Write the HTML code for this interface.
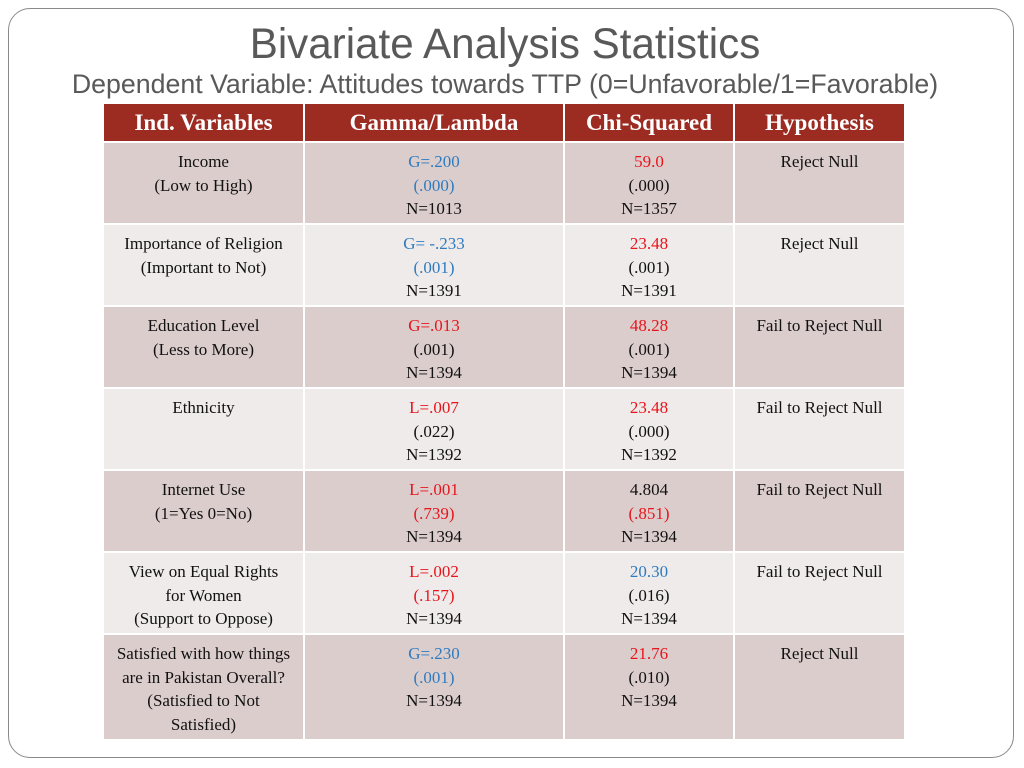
<!DOCTYPE html>
<html><head><meta charset="utf-8"><style>
body{margin:0;width:1024px;height:768px;background:#fff;position:relative;overflow:hidden;font-family:"Liberation Serif",serif}
#frame{position:absolute;left:8px;top:8px;width:1006px;height:750px;border:1.5px solid #8a8a8a;border-radius:22px;box-sizing:border-box}
h1{position:absolute;left:0;width:1010px;top:20px;margin:0;text-align:center;font:43px "Liberation Sans",sans-serif;color:#595959;font-weight:normal;transform:scaleX(.98)}
h2{position:absolute;left:0;width:1010px;top:69px;margin:0;text-align:center;font:27px "Liberation Sans",sans-serif;color:#595959;font-weight:normal;transform:scaleX(.99)}
table{position:absolute;left:102px;top:102px;border-collapse:collapse;table-layout:fixed}
td,th{border:2px solid #fff;text-align:center;vertical-align:top;font-size:17px;line-height:23.5px;color:#111;padding:0}
th{background:#9c2b22;color:#fff;font-size:23px;height:37px;vertical-align:middle;font-weight:bold}
td{padding-top:7px}
tr.d td{background:#dccdcd}tr.l td{background:#efebea}
.b{color:#2e7bc0}.r{color:#e8141c}
</style></head><body>
<div id="frame"></div>
<h1>Bivariate Analysis Statistics</h1>
<h2>Dependent Variable: Attitudes towards TTP (0=Unfavorable/1=Favorable)</h2>
<table>
<colgroup><col style="width:201px"><col style="width:260px"><col style="width:170px"><col style="width:171px"></colgroup>
<tr><th>Ind. Variables</th><th>Gamma/Lambda</th><th>Chi-Squared</th><th>Hypothesis</th></tr>
<tr class="d" style="height:82px"><td>Income<br>(Low to High)</td><td><span class="b">G=.200<br>(.000)</span><br>N=1013</td><td><span class="r">59.0</span><br>(.000)<br>N=1357</td><td>Reject Null</td></tr>
<tr class="l" style="height:82px"><td>Importance of Religion<br>(Important to Not)</td><td><span class="b">G= -.233<br>(.001)</span><br>N=1391</td><td><span class="r">23.48</span><br>(.001)<br>N=1391</td><td>Reject Null</td></tr>
<tr class="d" style="height:82px"><td>Education Level<br>(Less to More)</td><td><span class="r">G=.013</span><br>(.001)<br>N=1394</td><td><span class="r">48.28</span><br>(.001)<br>N=1394</td><td>Fail to Reject Null</td></tr>
<tr class="l" style="height:82px"><td>Ethnicity</td><td><span class="r">L=.007</span><br>(.022)<br>N=1392</td><td><span class="r">23.48</span><br>(.000)<br>N=1392</td><td>Fail to Reject Null</td></tr>
<tr class="d" style="height:82px"><td>Internet Use<br>(1=Yes 0=No)</td><td><span class="r">L=.001<br>(.739)</span><br>N=1394</td><td>4.804<br><span class="r">(.851)</span><br>N=1394</td><td>Fail to Reject Null</td></tr>
<tr class="l" style="height:82px"><td>View on Equal Rights<br>for Women<br>(Support to Oppose)</td><td><span class="r">L=.002<br>(.157)</span><br>N=1394</td><td><span class="b">20.30</span><br>(.016)<br>N=1394</td><td>Fail to Reject Null</td></tr>
<tr class="d" style="height:106px"><td>Satisfied with how things<br>are in Pakistan Overall?<br>(Satisfied to Not<br>Satisfied)</td><td><span class="b">G=.230<br>(.001)</span><br>N=1394</td><td><span class="r">21.76</span><br>(.010)<br>N=1394</td><td>Reject Null</td></tr>
</table>
</body></html>
